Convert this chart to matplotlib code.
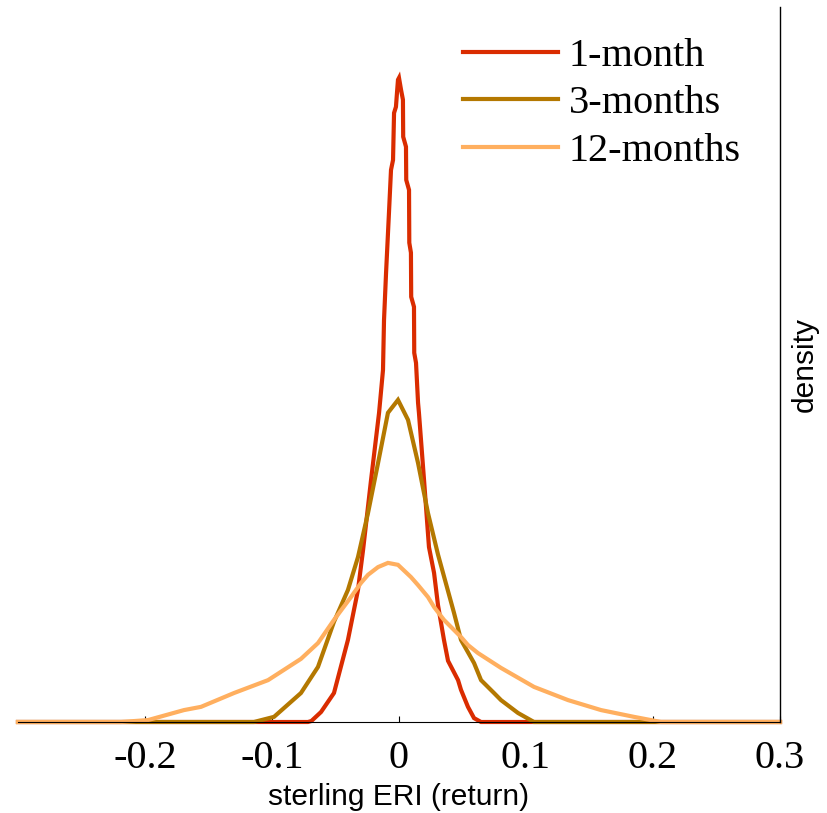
import matplotlib
matplotlib.use("Agg")
import matplotlib.pyplot as plt


# returns (x) and density (y), one list per horizon
x_1m = [-0.300, -0.0717, -0.0690, -0.0614, -0.0512, -0.0402, -0.0323, -0.0283,
        -0.0220, -0.0157, -0.0126, -0.0118, -0.0102, -0.0079, -0.0063, -0.0047,
        -0.0039, -0.0024, -0.0016, -0.0008, 0.0000, 0.0016, 0.0031, 0.0033,
        0.0055, 0.0057, 0.0079, 0.0081, 0.0094, 0.0096, 0.0118, 0.0120, 0.0134,
        0.0150, 0.0157, 0.0197, 0.0236, 0.0276, 0.0307, 0.0354, 0.0386, 0.0465,
        0.0488, 0.0543, 0.0591, 0.0646, 0.300]
y_1m = [0.00, 0.00, 0.03, 0.31, 0.90, 2.55, 4.10, 5.34,
        7.52, 9.60, 10.93, 12.48, 13.94, 15.81, 17.14, 17.45,
        18.91, 19.10, 19.53, 19.94, 20.00, 19.63, 19.32, 18.17,
        17.86, 16.83, 16.52, 14.88, 14.57, 13.20, 12.89, 11.46, 11.15,
        9.91, 9.60, 7.52, 5.43, 4.63, 3.63, 2.55, 1.90, 1.30,
        1.00, 0.47, 0.12, 0.00, 0.00]

x_3m = [-0.300, -0.1142, -0.0984, -0.0772, -0.0638, -0.0512, -0.0402, -0.0323,
        -0.0244, -0.0165, -0.0087, -0.0008, 0.0071, 0.0150, 0.0228, 0.0307,
        0.0433, 0.0488, 0.0591, 0.0646, 0.0748, 0.0803, 0.0937, 0.1063, 0.300]
y_3m = [0.00, 0.00, 0.16, 0.90, 1.71, 3.11, 4.10, 5.12,
        6.49, 8.04, 9.60, 10.00, 9.38, 8.04, 6.49, 5.20,
        3.39, 2.55, 1.83, 1.30, 0.90, 0.68, 0.28, 0.00, 0.00]

x_12m = [-0.300, -0.2189, -0.1976, -0.1693, -0.1559, -0.1299, -0.1031, -0.0772,
         -0.0638, -0.0512, -0.0378, -0.0299, -0.0244, -0.0165, -0.0087, -0.0008,
         0.0094, 0.0150, 0.0228, 0.0276, 0.0354, 0.0488, 0.0543, 0.0622, 0.0803,
         0.1063, 0.1331, 0.1591, 0.1850, 0.2063, 0.300]
y_12m = [0.00, 0.00, 0.06, 0.37, 0.47, 0.90, 1.30, 1.96,
         2.45, 3.17, 3.88, 4.32, 4.57, 4.81, 4.94, 4.88,
         4.50, 4.25, 3.88, 3.57, 3.17, 2.64, 2.39, 2.14, 1.68,
         1.09, 0.68, 0.37, 0.16, 0.00, 0.00]

labels = ["1-month", "3-months", "12-months"]
colors = ["#DA2C00", "#B47800", "#FFAF5F"]

x_ticks = [-0.2, -0.1, 0.0, 0.1, 0.2, 0.3]
x_tick_labels = ["-0.2", "-0.1", "0", "0.1", "0.2", "0.3"]


fig = plt.figure(figsize=(8.27, 8.13), dpi=100)
ax = fig.add_axes([18/827, 91/813, 762/827, 715/813])

series = [(x_1m, y_1m), (x_3m, y_3m), (x_12m, y_12m)]
for (xs, ys), lab, col in zip(series, labels, colors):
    ax.plot(xs, ys, color=col, lw=3.0, label=lab, clip_on=False,
            solid_joinstyle="miter")

ax.set_xlim(-0.3, 0.3)
ax.set_ylim(0, 22.2)

for side in ["top", "left"]:
    ax.spines[side].set_visible(False)
ax.spines["right"].set_linewidth(1.0)
ax.spines["bottom"].set_linewidth(0.8)

ax.set_yticks([])
ax.set_xticks(x_ticks)
ax.set_xticklabels(x_tick_labels, fontfamily="Liberation Serif", fontsize=29)
ax.tick_params(axis="x", direction="in", length=4, width=0.8, pad=13)

ax.set_xlabel("sterling ERI (return)", fontfamily="Liberation Sans",
              fontsize=21.5, labelpad=4)
ax.yaxis.set_label_position("right")
ax.set_ylabel("density", fontfamily="Liberation Sans", fontsize=21.5,
              rotation=90, labelpad=8)

leg = fig.legend(loc="upper left", bbox_to_anchor=(463/827, 1 - 38/813),
                 frameon=False, borderpad=0, borderaxespad=0,
                 prop={"family": "Liberation Serif", "size": 29},
                 handlelength=2.36, handletextpad=0.27, labelspacing=0.25)

fig.savefig("out.png", dpi=100)
